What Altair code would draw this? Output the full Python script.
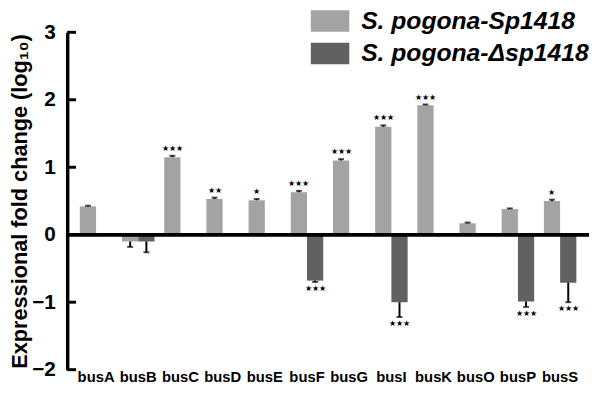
import altair as alt
import pandas as pd

genes = ["busA", "busB", "busC", "busD", "busE", "busF", "busG", "busI", "busK", "busO", "busP", "busS"]
wt_values = [0.42, -0.10, 1.15, 0.53, 0.51, 0.63, 1.10, 1.60, 1.92, 0.17, 0.38, 0.50]
wt_errors = [0.01, 0.08, 0.02, 0.02, 0.02, 0.02, 0.02, 0.02, 0.01, 0.01, 0.01, 0.02]
wt_stars = ["", "", "***", "**", "*", "***", "***", "***", "***", "", "", "*"]
mut_values = [None, -0.10, None, None, None, -0.68, None, -1.00, None, None, -0.99, -0.71]
mut_errors = [None, 0.16, None, None, None, 0.02, None, 0.22, None, None, 0.08, 0.29]
mut_stars = ["", "", "", "", "", "***", "", "***", "", "", "***", "***"]
strains = ["S. pogona-Sp1418", "S. pogona-\u0394sp1418"]
colors = ["#a3a3a3", "#616161"]
y_ticks = [-2, -1, 1, 2, 3]

rows = []
for i, g in enumerate(genes):
    for s, vals, errs, stars in [(strains[0], wt_values, wt_errors, wt_stars),
                                 (strains[1], mut_values, mut_errors, mut_stars)]:
        v = vals[i]
        if v is None:
            continue
        e = errs[i]
        end = v + e if v >= 0 else v - e
        sig = stars[i].replace("*", "\u2605")
        rows.append({"gene": g, "strain": s, "value": v, "end": end, "sig": sig,
                     "pos": v >= 0})
df = pd.DataFrame(rows)
ticks_df = pd.DataFrame({"t": y_ticks})
genes_df = pd.DataFrame({"gene": genes})

W, H = 529, 342
yscale = alt.Scale(domain=[-2, 3], nice=False)
xscale = alt.Scale(domain=genes, paddingInner=0.23, paddingOuter=0.30)

y_axis = alt.Axis(values=[-2, -1, 0, 1, 2, 3], format="d", ticks=False, grid=False,
                  domainWidth=3.5, domainColor="black",
                  labelFont="Liberation Sans", labelFontSize=21,
                  labelFontWeight="bold", labelColor="black", labelPadding=12,
                  title="Expressional fold change (log\u2081\u2080)",
                  titleFont="Liberation Sans", titleFontSize=22,
                  titleFontWeight="bold", titleColor="black", titlePadding=0)

X = alt.X("gene:N", scale=xscale, sort=genes, axis=None)
XO = alt.XOffset("strain:N", scale=alt.Scale(domain=strains))


def Y(field):
    return alt.Y(field, scale=yscale, axis=y_axis)


base = alt.Chart(df)

bars = base.mark_bar().encode(
    x=X, xOffset=XO, y=Y("value:Q"),
    color=alt.Color("strain:N", scale=alt.Scale(domain=strains, range=colors),
                    legend=alt.Legend(title=None, orient="none", legendX=247, legendY=-31,
                                      symbolType="M-1,-0.56H1V0.56H-1Z", symbolSize=1521,
                                      symbolStrokeWidth=0, symbolOpacity=1,
                                      labelFont="Liberation Sans", labelFontSize=25,
                                      labelFontWeight="bold", labelFontStyle="italic",
                                      labelColor="black", labelOffset=12, rowPadding=-4,
                                      padding=0, labelLimit=400)),
)

err_rule = base.mark_rule(color="black", strokeWidth=2).encode(
    x=X, xOffset=XO, y=Y("value:Q"), y2="end:Q")
err_cap = base.mark_tick(color="black", size=6, thickness=2).encode(
    x=X, xOffset=XO, y=Y("end:Q"))

stars_up = base.transform_filter("datum.pos").mark_text(
    fontSize=8, baseline="bottom", dy=-3, color="black").encode(
    x=X, xOffset=XO, y=Y("end:Q"), text="sig:N")
stars_down = base.transform_filter("!datum.pos").mark_text(
    fontSize=8, baseline="top", dy=3, color="black").encode(
    x=X, xOffset=XO, y=Y("end:Q"), text="sig:N")

zero = alt.Chart(ticks_df).mark_rule(color="black", strokeWidth=3).encode(
    y=alt.datum(0, scale=yscale, axis=y_axis))
inner_ticks = alt.Chart(ticks_df).mark_rule(color="black", strokeWidth=3).encode(
    y=Y("t:Q"), x=alt.value(0), x2=alt.value(9))

gene_labels = alt.Chart(genes_df).mark_text(
    align="center", baseline="middle", font="Liberation Sans",
    fontSize=15, fontWeight="bold", color="black", yOffset=8).encode(
    x=X,
    y=alt.datum(-2, scale=yscale, axis=y_axis),
    text="gene:N")

chart = alt.layer(bars, err_rule, err_cap, stars_up, stars_down, zero, inner_ticks,
                  gene_labels).properties(
    width=W, height=H,
    autosize=alt.AutoSizeParams(type="none"),
    padding={"left": 60, "top": 22, "right": 1, "bottom": 20},
).configure_view(stroke=None)

chart.save("out.html", embed_options={"renderer": "svg", "actions": False})
